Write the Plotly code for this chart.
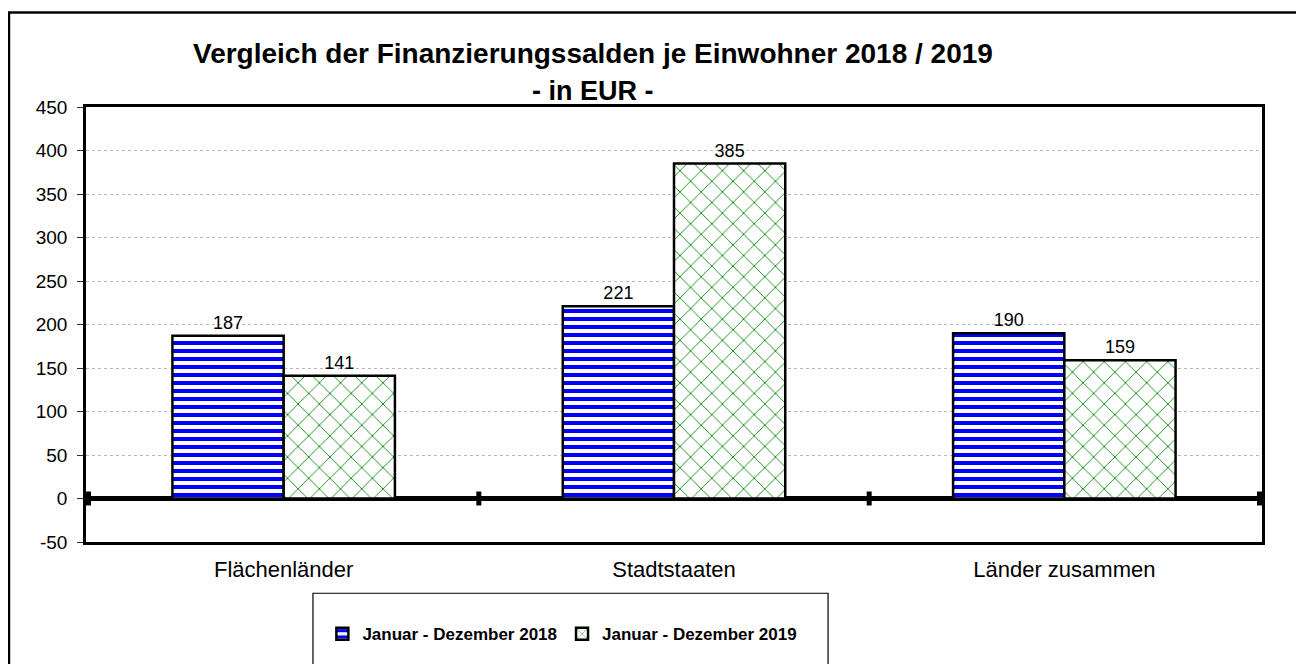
import plotly.graph_objects as go

categories = ["Flächenländer", "Stadtstaaten", "Länder zusammen"]
values_2018 = [187, 221, 190]
values_2019 = [141, 385, 159]
series_names = ["Januar - Dezember 2018", "Januar - Dezember 2019"]
y_ticks = [-50, 0, 50, 100, 150, 200, 250, 300, 350, 400, 450]
y_tick_labels = [str(v) for v in y_ticks]
title_line1 = "Vergleich der Finanzierungssalden je Einwohner 2018 / 2019"
title_line2 = "- in EUR -"

FONT = "Liberation Sans, Arial, sans-serif"

fig = go.Figure()
fig.add_trace(go.Bar(
    x=categories, y=values_2018, name=series_names[0],
    marker=dict(color="white", line=dict(color="black", width=2.5),
                pattern=dict(shape="-", fgcolor="#0000FF", bgcolor="white",
                             size=8, solidity=0.5, fillmode="replace", fgopacity=1)),
    text=values_2018, textposition="outside", cliponaxis=False,
    textfont=dict(family=FONT, size=18, color="black"),
))
fig.add_trace(go.Bar(
    x=categories, y=values_2019, name=series_names[1],
    marker=dict(color="white", line=dict(color="black", width=2.5),
                pattern=dict(shape="x", fgcolor="#138F13", bgcolor="white",
                             size=15, solidity=0.12, fillmode="replace", fgopacity=1)),
    text=values_2019, textposition="outside", cliponaxis=False,
    textfont=dict(family=FONT, size=18, color="black"),
))

shapes = []
# tick marks on the zero line at category boundaries
for k in range(len(categories) + 1):
    shapes.append(dict(type="line", xref="x", yref="y", x0=k - 0.5, x1=k - 0.5,
                       y0=-8, y1=8, line=dict(color="black", width=5)))
# outer chart border
shapes.append(dict(type="rect", xref="paper", yref="paper",
                   x0=-0.0655, x1=1.045, y0=-0.40, y1=1.217,
                   line=dict(color="black", width=2.5), layer="below"))
# legend box
shapes.append(dict(type="rect", xref="paper", yref="paper",
                   x0=0.193, x1=0.631, y0=-0.40, y1=-0.1178,
                   line=dict(color="black", width=1.2)))

annotations = [
    dict(text="<b>" + title_line1 + "</b>", xref="paper", yref="paper",
         x=0.431, y=1.124, xanchor="center", yanchor="middle", showarrow=False,
         font=dict(family=FONT, size=28, color="black")),
    dict(text="<b>" + title_line2 + "</b>", xref="paper", yref="paper",
         x=0.431, y=1.037, xanchor="center", yanchor="middle", showarrow=False,
         font=dict(family=FONT, size=27, color="black")),
]

fig.update_layout(
    width=1296, height=656,
    margin=dict(l=78, r=42, t=99, b=116),
    paper_bgcolor="white", plot_bgcolor="white",
    barmode="group", bargap=0.43, bargroupgap=0,
    font=dict(family=FONT, color="black"),
    showlegend=True,
    legend=dict(orientation="h", x=0.201, y=-0.212, xanchor="left", yanchor="middle",
                font=dict(family=FONT, size=17, color="black", weight="bold"),
                bgcolor="rgba(0,0,0,0)", borderwidth=0, itemwidth=30,
                traceorder="normal"),
    shapes=shapes,
    annotations=annotations,
)
fig.update_xaxes(
    showline=True, linecolor="black", linewidth=2.5, mirror=True,
    ticks="", showgrid=False, ticklabelstandoff=6,
    tickfont=dict(family=FONT, size=22, color="black"),
)
fig.update_yaxes(
    range=[-50, 450], tickvals=y_ticks, ticktext=y_tick_labels,
    showline=True, linecolor="black", linewidth=2.5, mirror=True,
    ticks="outside", ticklen=6, tickcolor="#333333", tickwidth=1,
    ticklabelstandoff=6,
    showgrid=True, gridcolor="#b8b8b8", griddash="dot", gridwidth=1,
    zeroline=True, zerolinecolor="black", zerolinewidth=5,
    tickfont=dict(family=FONT, size=19, color="black"),
)

fig.write_html("out.html")
